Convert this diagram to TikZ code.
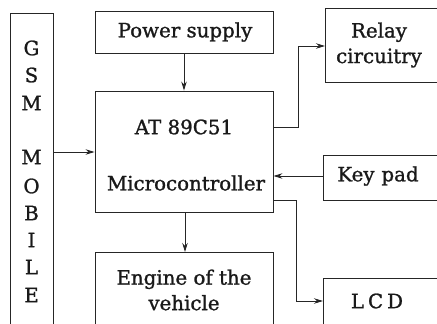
\documentclass[tikz,border=0pt]{standalone}
\usepackage{fontspec}
\setmainfont{DejaVu Serif}
\newfontfamily\diagfont{DejaVu Serif}[FakeBold=1.2]
\usetikzlibrary{arrows.meta}
\begin{document}
\begin{tikzpicture}[x=1pt,y=-1pt,
  box/.style={draw=black!85,line width=0.9pt},
  lbl/.style={font=\diagfont\fontsize{19.8}{25.5}\selectfont,align=center,text=black!90},
  conn/.style={draw=black!85,line width=0.9pt,-{Stealth[length=9pt,width=5.5pt]}}]
\useasboundingbox (0,0) rectangle (437,324);
% boxes
\draw[box] (10,330) |- (53,13) -- (53,330);
\coordinate (gsmR) at (53,152);
\node[box,minimum width=178pt,minimum height=42pt,inner sep=0pt] (ps) at (184,32) {};
\node[lbl] at (185,32) {Power supply};
\node[box,minimum width=178pt,minimum height=121pt,inner sep=0pt] (mc) at (184,151.5) {};
\node[lbl] (mc1) at (184,127) {AT 89C51};
\node[lbl] (mc2) at (186,183) {Microcontroller};
\draw[box] (273,330) |- (95,252) -- (95,330);
\coordinate (engT) at (185,252);
\node[lbl] (eng) at (184,290) {Engine of the\\vehicle};
\draw[box] (440,8) -| (325,82) -- (440,82);
\node[lbl] (relay) at (379,45) {Relay\\circuitry};
\draw[box] (440,155) -| (323,200) -- (440,200);
\node[lbl] (key) at (378,176) {Key\hspace{0.35em}pad};
\draw[box] (440,278) -| (323,330);
\node[lbl] (lcd) at (377,301) {L\hspace{0.2em}C\hspace{0.2em}D};
\foreach \l/\y in {G/48,S/75,M/103,M/157,O/186,B/213,I/240,L/267,E/295}
  \node[lbl] at (31.5,\y) {\l};
% connectors
\coordinate (relayL) at (325,46);
\coordinate (keyL) at (323,176);
\coordinate (lcdL) at (323,301);
\draw[conn] (ps.south) -- (mc.north);
\draw[conn] (gsmR) -- (mc.west |- gsmR);
\draw[conn] (mc.east |- 0,127) -- (298,127) |- (relayL);
\draw[conn] (keyL) -- (mc.east |- keyL);
\draw[conn] (mc.east |- 0,200) -- (296,200) |- (lcdL);
\draw[conn] (mc.south -| engT) -- (engT);
\end{tikzpicture}
\end{document}
